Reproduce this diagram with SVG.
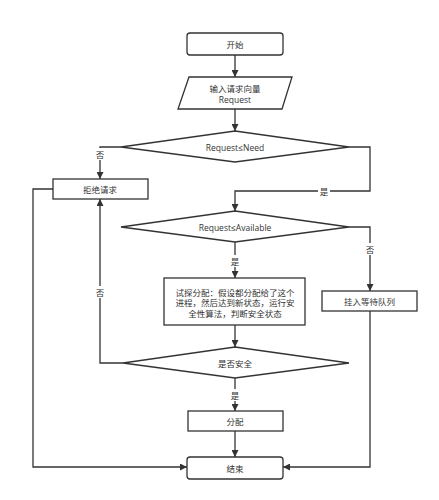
<svg xmlns="http://www.w3.org/2000/svg" width="439" height="500" viewBox="0 0 439 500">
<style>
.s{fill:#fff;stroke:#333;stroke-width:1.3}
.t{font-family:"Noto Sans CJK SC","Liberation Sans",sans-serif;font-size:8.5px;fill:#333;text-anchor:middle;dominant-baseline:central}
.l{font-family:"Open Sans","Liberation Sans",sans-serif;font-size:8.5px;fill:#333;text-anchor:middle;dominant-baseline:central}
.c{fill:none;stroke:#333;stroke-width:1.3}
.lb{fill:#fff}
</style>
<defs>
<marker id="a" viewBox="0 0 10 10" refX="10" refY="5" markerWidth="7" markerHeight="7" markerUnits="userSpaceOnUse" orient="auto"><path d="M0,0 L10,5 L0,10 Z" fill="#333"/></marker>
</defs>
<rect width="439" height="500" fill="#fff"/>
<g id="connectors">
<path class="c" d="M235,55 V77" marker-end="url(#a)"/>
<path class="c" d="M235,109 V131" marker-end="url(#a)"/>
<path class="c" d="M121,147 H100 V179" marker-end="url(#a)"/>
<path class="c" d="M349,147 H370 V191 H235 V211" marker-end="url(#a)"/>
<path class="c" d="M349,227 H370 V291" marker-end="url(#a)"/>
<path class="c" d="M235,242 V278" marker-end="url(#a)"/>
<path class="c" d="M235,325 V347" marker-end="url(#a)"/>
<path class="c" d="M123,363 H100 V199" marker-end="url(#a)"/>
<path class="c" d="M235,378 V411" marker-end="url(#a)"/>
<path class="c" d="M235,431 V457" marker-end="url(#a)"/>
<path class="c" d="M53,189 H33 V467 H187" marker-end="url(#a)"/>
<path class="c" d="M370,311 V467 H283" marker-end="url(#a)"/>
<rect class="lb" x="94" y="148" width="12" height="12"/>
<text class="t" x="100" y="154">否</text>
<rect class="lb" x="318" y="185" width="12" height="12"/>
<text class="t" x="324" y="191">是</text>
<rect class="lb" x="364" y="243" width="12" height="12"/>
<text class="t" x="370" y="249">否</text>
<rect class="lb" x="229" y="255" width="12" height="12"/>
<text class="t" x="235" y="261">是</text>
<rect class="lb" x="94" y="286" width="12" height="12"/>
<text class="t" x="100" y="292">否</text>
<rect class="lb" x="229" y="389" width="12" height="12"/>
<text class="t" x="235" y="395">是</text>
</g>
<g id="start">
<rect class="s" x="187" y="33" width="96" height="22" rx="3"/>
<text class="t" x="235" y="44">开始</text>
</g>
<g id="input">
<polygon class="s" points="189,77 292,77 282,109 178,109"/>
<text class="t" x="235" y="88">输入请求向量</text>
<text class="l" x="235" y="99">Request</text>
</g>
<g id="need">
<polygon class="s" points="235,131 349,147 235,162 121,147"/>
<text class="l" x="235" y="147">Request≤Need</text>
</g>
<g id="reject">
<rect class="s" x="53" y="179" width="95" height="20"/>
<text class="t" x="100" y="189">拒绝请求</text>
</g>
<g id="available">
<polygon class="s" points="235,211 349,227 235,242 121,227"/>
<text class="l" x="235" y="227">Request≤Available</text>
</g>
<g id="try">
<rect class="s" x="164" y="278" width="141" height="47"/>
<text class="t" x="235" y="291.5">试探分配：假设都分配给了这个</text>
<text class="t" x="235" y="302">进程，然后达到新状态，运行安</text>
<text class="t" x="235" y="312.5">全性算法，判断安全状态</text>
</g>
<g id="wait">
<rect class="s" x="322" y="291" width="95" height="20"/>
<text class="t" x="369.5" y="301">挂入等待队列</text>
</g>
<g id="safe">
<polygon class="s" points="235,347 349,363 235,378 123,363"/>
<text class="t" x="235" y="363">是否安全</text>
</g>
<g id="alloc">
<rect class="s" x="188" y="411" width="95" height="20"/>
<text class="t" x="235" y="421">分配</text>
</g>
<g id="end">
<rect class="s" x="187" y="457" width="96" height="22" rx="3"/>
<text class="t" x="235" y="468">结束</text>
</g>
</svg>
